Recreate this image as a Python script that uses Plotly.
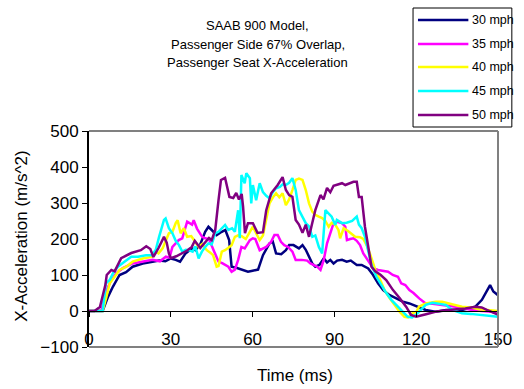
import plotly.graph_objects as go

# ---------------- data ----------------
series_names = ["30 mph", "35 mph", "40 mph", "45 mph", "50 mph"]
series_colors = ["#000080", "#FF00FF", "#FFFF00", "#00FFFF", "#800080"]

t30 = [0, 3, 5, 7, 8.8, 11.2, 13.6, 16, 19.7, 23.3, 25.7, 28, 30, 31.8, 33.4, 35.4, 37.8, 39, 40.8, 42.6,
       43.8, 45, 46.8, 48.7, 50, 51.4, 52.3, 54, 56.5, 58.3, 60, 62, 63.8, 66.2, 67.4, 68.6, 70.5, 72.2,
       73.4, 75, 77, 78.3, 79.5, 80.7, 81.9, 83, 84.5, 86.1, 87.3, 88.5, 89.7, 91, 92.8, 94.5, 96, 98.2,
       100, 102.4, 104.2, 106, 107.9, 110.3, 112.7, 115.1, 117.5, 120, 123.5, 127, 131, 136.8, 141.7,
       144.1, 145.9, 147.1, 148.3, 150]
v30 = [0, 0, 0, 40, 68, 100, 108, 123, 132, 137, 140, 138, 146, 142, 137, 160, 174, 169, 185, 220,
       234, 225, 211, 220, 225, 197, 123, 120, 114, 109, 112, 115, 155, 188, 193, 160, 158, 169,
       183, 183, 174, 183, 170, 151, 132, 123, 128, 146, 135, 142, 132, 140, 142, 137, 140, 128,
       128, 118, 100, 77, 58, 44, 35, 26, 21, 14, 3, -2, 3, 3, 12,
       31, 54, 72, 54, 44]

t35 = [0, 3, 4.5, 6.4, 8.2, 10, 12.4, 16, 19.7, 23.3, 26, 28.2, 29.5, 30.6, 31.8, 32.9, 34.2, 35.4, 36,
       37.8, 38.4, 39.6, 41.5, 42.6, 44, 45.7, 47.5, 49, 51.1, 52.3, 53.5, 54.7, 55.9, 57.1, 59, 60.1,
       61, 62.6, 65, 66.8, 68, 69.2, 70.4, 71.6, 73, 74.6, 75.8, 78, 80, 81.2, 83.7, 84.9, 86.1, 87.3,
       88.5, 89.7, 90.9, 92.8, 94, 94.6, 95.8, 97, 98.2, 99.4, 100.6, 101.8, 103, 104.2, 106, 107.9,
       109.7, 111.4, 113.3, 114.5, 116, 117.5, 119, 121.1, 123.5, 126, 128.4, 131, 134.4, 137, 140.5,
       144, 147.7, 150]
v35 = [0, 0, 0, 58, 86, 105, 119, 132, 137, 142, 138, 151, 148, 178, 188, 197, 202, 234, 248,
       240, 252, 229, 206, 202, 200, 169, 137, 132, 123, 109, 115, 142, 178, 174, 197, 202,
       200, 169, 178, 192, 211, 211, 192, 183, 178, 165, 142, 142, 140, 132, 123, 114, 142, 188,
       216, 244, 248, 244, 234, 197, 200, 202, 195, 183, 160, 146, 132, 119, 114, 112,
       109, 100, 95, 77, 72, 58, 50, 35, 21, 20, 17, 15, 12, 8, 3,
       0, -2, -6]

t40 = [0, 3, 5, 6.4, 7.6, 9.4, 11.2, 13.7, 16, 19.7, 23.3, 24.5, 25.5, 27, 28.2, 29.3, 30.6, 31.8, 32.5,
       33.6, 34.8, 36, 37.5, 39, 40.2, 41.5, 42.5, 43.2, 44.5, 45.5, 46.8, 47.5, 48.7, 49.9, 51, 52.3,
       53.5, 54.7, 56, 57.5, 59, 60.1, 61.3, 62.6, 63.8, 65, 66.2, 67.4, 68.6, 69.8, 71, 72.2, 73.4,
       74.6, 75.8, 77, 78.3, 79.5, 80.7, 81.9, 83, 84.3, 85.5, 86.7, 87.9, 89, 90.3, 91.5, 92.1, 93.4,
       95, 97.6, 99.4, 100.6, 101.8, 103, 104.2, 105.4, 106.6, 108.4, 110.3, 112.1, 113.9, 115.7, 117,
       118.7, 120, 121, 123.5, 127.2, 129.5, 132, 134.5, 136.8, 140, 143, 147, 150]
v40 = [0, 0, 0, 40, 77, 95, 114, 123, 137, 146, 151, 165, 160, 174, 197, 216, 220, 244, 252,
       216, 230, 206, 208, 192, 178, 186, 174, 169, 162, 155, 123, 125, 165, 169, 175, 183,
       206, 210, 208, 200, 220, 234, 216, 197, 210, 253, 299, 315, 327, 316, 327, 294, 310,
       336, 364, 368, 364, 336, 299, 276, 267, 262, 258, 250, 234, 245, 240, 225, 202, 230,
       222, 206, 205, 200, 183, 160, 132, 105, 90, 58, 35, 17, -2, -16, -18,
       -6, -3, 12, 21, 26, 26, 21, 17, 12, 10, 5, 2, 0]

t45 = [0, 3, 5, 6.2, 7.6, 8.8, 10.6, 13, 15.5, 18, 20.9, 23, 24.5, 25.7, 27.5, 28.1, 29.3, 30.6, 31.8,
       33, 34.2, 35.5, 36.6, 38, 39, 40.2, 41.4, 42.6, 43.8, 45, 46.3, 47.5, 49.9, 51.1, 52.5, 53.5,
       54.7, 55.3, 55.9, 57.1, 57.7, 59, 59.5, 60.1, 61.3, 62.6, 63.8, 65, 66.2, 67.4, 68.6, 70, 71,
       72.2, 73.4, 74.6, 75.8, 77, 78.3, 79.5, 80.7, 81.9, 83, 84.3, 85.5, 86.7, 88, 89, 90.3, 90.9,
       92.8, 94.5, 96.5, 98.2, 99, 100, 101.2, 102.4, 103.6, 105.4, 107.2, 109.1, 110.9, 113.3, 115,
       116.9, 118.5, 120, 121.7, 123.5, 126, 128.4, 130.8, 133.2, 136.8, 140, 144.1, 147, 150]
v45 = [0, 0, 0, 77, 86, 105, 123, 137, 151, 151, 155, 155, 170, 206, 253, 257, 230, 216, 195,
       183, 165, 170, 169, 165, 180, 146, 165, 178, 188, 185, 216, 220, 239, 225, 230, 220,
       280, 202, 378, 355, 383, 369, 299, 350, 308, 355, 330, 320, 313, 330, 341, 345, 352,
       350, 356, 369, 336, 280, 262, 244, 235, 206, 210, 178, 160, 280, 270, 262, 239, 253,
       244, 245, 250, 262, 240, 230, 206, 169, 128, 95, 72, 49, 31, 12, 0,
       -16, -18, -10, 3, 17, 23, 20, 17, 3, -6, -8, -11, -13, -16]

t50 = [0, 2, 4, 6, 6.5, 8.2, 9.4, 11.8, 15.5, 19, 21, 22.5, 23.6, 25.5, 27.5, 28.5, 29.3, 30, 32, 34,
       36, 37.7, 38.8, 40.8, 42.6, 44, 45, 46.3, 47.5, 48.4, 49.9, 51.5, 52.9, 54, 55, 56, 56.5, 57.2,
       58.3, 60.1, 61.8, 63.8, 65, 66.8, 69.2, 71, 72.2, 73.4, 74.6, 75.8, 77, 78.3, 79.5, 80.7, 81.9,
       83, 84.9, 86, 87.3, 88.5, 89.7, 90.9, 92.8, 94, 95.5, 97, 98.2, 99, 100, 101.2, 102.4, 103.6,
       105, 107, 109, 111.5, 113.9, 116.3, 118.1, 120, 123.6, 127, 131.9, 135, 138, 141.7, 144, 145.9,
       148.9, 150]
v50 = [0, 0, 11, 72, 100, 114, 110, 147, 161, 169, 180, 172, 150, 175, 206, 190, 160, 147, 152, 160,
       168, 178, 195, 175, 192, 203, 197, 225, 308, 364, 370, 317, 314, 328, 310, 325, 290, 216,
       244, 244, 217, 219, 280, 327, 350, 372, 336, 322, 317, 253, 240, 217, 240, 206, 245,
       280, 322, 310, 342, 330, 348, 350, 355, 350, 355, 359, 359, 317, 317, 234, 179, 123,
       110, 100, 86, 58, 36, 12, -11, -16, -9, -2, 3, 5, 7, 12, 10, 3,
       -6, -10]

x_ticks = [0, 30, 60, 90, 120, 150]
y_ticks = [-100, 0, 100, 200, 300, 400, 500]

title_lines = ["SAAB 900 Model,", "Passenger Side 67% Overlap,", "Passenger Seat X-Acceleration"]

# ---------------- layout geometry (pixels) ----------------
W, H = 524, 389
L, R, T, B = 89, 21, 131, 42
PW, PH = W - L - R, H - T - B
FONT = "Liberation Sans, Arial, sans-serif"


def px(xp):
    return (xp - L) / PW


def py(yp):
    return (H - B - yp) / PH


all_t = [t30, t35, t40, t45, t50]
all_v = [v30, v35, v40, v45, v50]

fig = go.Figure()
for name, color, tt, vv in zip(series_names, series_colors, all_t, all_v):
    fig.add_trace(go.Scatter(x=tt, y=vv, mode="lines", name=name,
                             line=dict(color=color, width=2.5), showlegend=False))

shapes = []
# plot box (gray) top, right, bottom
box = dict(type="line", xref="paper", yref="paper", line=dict(color="#808080", width=2))
shapes.append(dict(box, x0=0, x1=1, y0=1, y1=1))
shapes.append(dict(box, x0=1, x1=1, y0=0, y1=1))
shapes.append(dict(box, x0=0, x1=1, y0=0, y1=0))

# custom legend
lx0, lx1, ly0, ly1 = 417, 517, 8, 127
shapes.append(dict(type="rect", xref="paper", yref="paper",
                   x0=px(lx0), x1=px(lx1), y0=py(ly1), y1=py(ly0),
                   line=dict(color="black", width=1), fillcolor="white"))
annotations = []
row_y = [20, 44, 67, 91, 115]
for name, color, ry in zip(series_names, series_colors, row_y):
    shapes.append(dict(type="line", xref="paper", yref="paper",
                       x0=px(422), x1=px(473), y0=py(ry), y1=py(ry),
                       line=dict(color=color, width=2.5)))
    annotations.append(dict(text=name, xref="paper", yref="paper", x=px(475), y=py(ry),
                            xanchor="left", yanchor="middle", showarrow=False,
                            font=dict(family=FONT, size=12.5, color="black")))

# title lines
for line, ty in zip(title_lines, [25, 44, 63]):
    annotations.append(dict(text=line, xref="paper", yref="paper", x=px(260), y=py(ty),
                            xanchor="center", yanchor="middle", showarrow=False,
                            font=dict(family=FONT, size=13, color="black")))

# axis titles
annotations.append(dict(text="X-Acceleration (m/s^2)", xref="paper", yref="paper",
                        x=px(20), y=py(236), textangle=-90, xanchor="center", yanchor="middle",
                        showarrow=False, font=dict(family=FONT, size=17, color="black")))
annotations.append(dict(text="Time (ms)", xref="paper", yref="paper",
                        x=px(298), y=py(375), xanchor="center", yanchor="middle",
                        showarrow=False, font=dict(family=FONT, size=17, color="black")))

fig.update_layout(
    width=W, height=H,
    margin=dict(l=L, r=R, t=T, b=B),
    paper_bgcolor="white", plot_bgcolor="white",
    shapes=shapes, annotations=annotations,
    xaxis=dict(range=[0, 150], tickvals=x_ticks, ticktext=[str(v) for v in x_ticks],
               anchor="free", position=100 / 600, showline=True, linecolor="black", linewidth=1,
               ticks="outside", ticklen=5, tickcolor="black", showgrid=False, zeroline=False,
               ticklabelstandoff=8,
               tickfont=dict(family=FONT, size=17, color="black")),
    yaxis=dict(range=[-100, 500], tickvals=y_ticks, showline=True, linecolor="black", linewidth=2,
               ticks="outside", ticklen=5, tickcolor="black", showgrid=False, zeroline=False,
               tickfont=dict(family=FONT, size=17, color="black")),
)

fig.write_html("out.html")
